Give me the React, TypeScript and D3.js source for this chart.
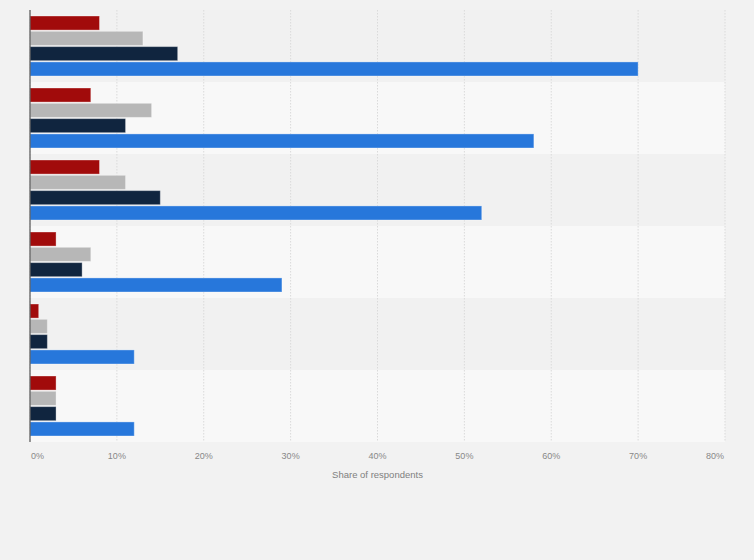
import React from "react";
import * as d3 from "d3";

const categories = ["Group 1", "Group 2", "Group 3", "Group 4", "Group 5", "Group 6"];
const seriesNames = ["Series A", "Series B", "Series C", "Series D"];
const seriesA = [8, 7, 8, 3, 1, 3];
const seriesB = [13, 14, 11, 7, 2, 3];
const seriesC = [17, 11, 15, 6, 2, 3];
const seriesD = [70, 58, 52, 29, 12, 12];
const colors = ["#a10b0b", "#b7b7b7", "#10253f", "#2777db"];
const ticks = [0, 10, 20, 30, 40, 50, 60, 70, 80];
const axisTitle = "Share of respondents";

export default function App() {
  const W = 754, H = 560;
  const left = 30, right = 725, top = 10, bottom = 442;
  const x = d3.scaleLinear().domain([0, 80]).range([left, right]);
  const y = d3.scaleBand<string>().domain(categories).range([top, bottom]).padding(0);
  const bw = y.bandwidth();
  const inner = d3.scaleBand<string>().domain(seriesNames).range([6, bw - 6]).paddingInner(0.08);
  const all = [seriesA, seriesB, seriesC, seriesD];
  const font = "'Liberation Sans', Arial, sans-serif";
  return (
    <div style={{ position: "absolute", left: 0, top: 0 }}>
      <svg width={W} height={H} style={{ display: "block", background: "#f2f2f2" }}>
        {categories.map((c, i) => (
          <rect key={c} x={left} y={y(c)} width={right - left} height={bw} fill={i % 2 === 0 ? "#f1f1f1" : "#f8f8f8"} />
        ))}
        {ticks.map((t) => (
          <line key={t} x1={x(t)} x2={x(t)} y1={top} y2={bottom} stroke="#dadada" strokeDasharray="1.5,1.5" strokeWidth={1} />
        ))}
        {categories.map((c, i) => (
          <g key={c}>
            {all.map((s, j) => (
              <rect
                key={j}
                x={x(0)}
                y={(y(c) as number) + (inner(seriesNames[j]) as number)}
                width={x(s[i]) - x(0)}
                height={inner.bandwidth()}
                fill={colors[j]}
                stroke="rgba(255,255,255,0.35)"
                strokeWidth={1}
              />
            ))}
          </g>
        ))}
        <line x1={left} x2={left} y1={top} y2={bottom} stroke="#555" strokeWidth={1.2} />
        {ticks.map((t, i) => (
          <text
            key={t}
            x={i === 0 ? x(t) + 1 : i === ticks.length - 1 ? x(t) - 1 : x(t)}
            y={459}
            textAnchor={i === 0 ? "start" : i === ticks.length - 1 ? "end" : "middle"}
            fontSize={9}
            fill="#888"
            fontFamily={font}
          >
            {t}%
          </text>
        ))}
        <text x={(left + right) / 2} y={478} textAnchor="middle" fontSize={9.5} fill="#808080" fontFamily={font}>
          {axisTitle}
        </text>
      </svg>
    </div>
  );
}
